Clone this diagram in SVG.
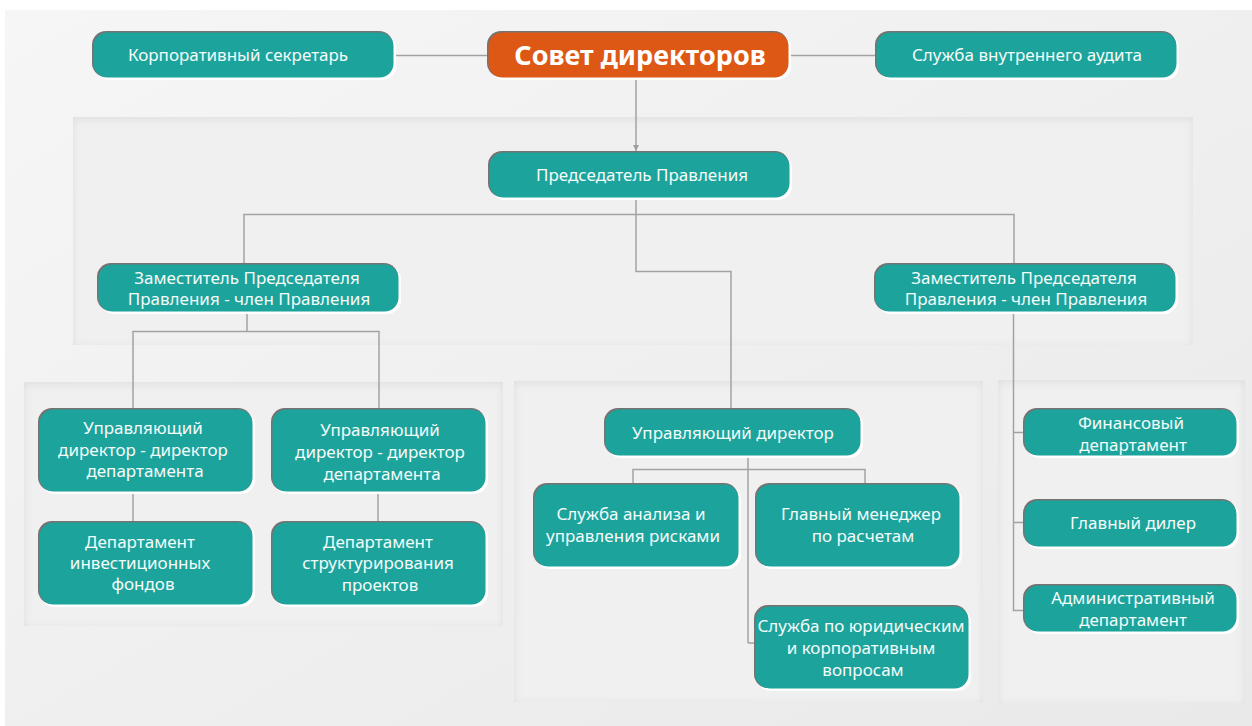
<svg xmlns="http://www.w3.org/2000/svg" width="1252" height="726" viewBox="0 0 1252 726">
<defs>
<linearGradient id="bg" x1="0" y1="0" x2="1" y2="1">
<stop offset="0" stop-color="#f6f6f6"/><stop offset="1" stop-color="#eae9ea"/>
</linearGradient>
<filter id="inset" x="-5%" y="-5%" width="110%" height="110%">
<feFlood flood-color="#000" flood-opacity="0.16" result="f"/>
<feComposite in="f" in2="SourceAlpha" operator="out" result="o"/>
<feOffset dx="0" dy="2" in="o" result="oo"/>
<feGaussianBlur in="oo" stdDeviation="4" result="b"/>
<feComposite in="b" in2="SourceAlpha" operator="in" result="s"/>
<feMerge><feMergeNode in="SourceGraphic"/><feMergeNode in="s"/></feMerge>
</filter>
<marker id="arr" viewBox="0 0 10 10" refX="10" refY="5" markerWidth="8" markerHeight="6" markerUnits="userSpaceOnUse" orient="auto">
<path d="M0,0 L10,5 L0,10 z" fill="#9e9e9e"/>
</marker>
</defs>
<style>
.panel{fill:#f1f0f0;filter:url(#inset)}
.hl{fill:#ffffff}
.sh{fill:#767272}
.box{fill:#1ca49c}
.orange{fill:#dd5815}
.t{font-family:"Noto Sans","Open Sans",sans-serif;font-size:17px;fill:#f4fbfa;text-anchor:middle}
.title{font-family:"Noto Sans","Open Sans",sans-serif;font-size:27px;font-weight:bold;fill:#ffffff;text-anchor:middle}
.c{fill:none;stroke:#a3a2a2;stroke-width:1.5}
</style>
<rect x="5" y="10" width="1247" height="716" fill="url(#bg)"/>
<g id="panels">
<rect class="panel" x="73" y="117" width="1120" height="228"/>
<rect class="panel" x="24" y="382" width="479" height="244"/>
<rect class="panel" x="514" y="381" width="469" height="321"/>
<rect class="panel" x="998" y="380" width="247" height="323"/>
</g>
<g id="connectors">
<line class="c" x1="394" y1="55.5" x2="488" y2="55.5"/>
<line class="c" x1="789" y1="55.5" x2="876" y2="55.5"/>
<line class="c" x1="636" y1="78" x2="636" y2="151" marker-end="url(#arr)"/>
<polyline class="c" points="244,264 244,214.5 1014,214.5 1014,264"/>
<polyline class="c" points="636,198 636,271.5 731,271.5 731,409"/>
<polyline class="c" points="247,312 247,331.5"/>
<polyline class="c" points="133,409 133,331.5 379,331.5 379,409"/>
<line class="c" x1="133" y1="492" x2="133" y2="522"/>
<line class="c" x1="378" y1="492" x2="378" y2="522"/>
<polyline class="c" points="1013.5,312 1013.5,610.5 1024,610.5"/>
<line class="c" x1="1013.5" y1="432.5" x2="1024" y2="432.5"/>
<line class="c" x1="1013.5" y1="522.5" x2="1024" y2="522.5"/>
<line class="c" x1="748" y1="456" x2="748" y2="643"/>
<line class="c" x1="748" y1="643" x2="755" y2="643"/>
<polyline class="c" points="633,484 633,469.5 865,469.5 865,484"/>
</g>
<g id="n-secretary">
<rect class="hl" x="95" y="34" width="301" height="46" rx="14"/>
<rect class="sh" x="92" y="31" width="301" height="46" rx="14"/>
<rect class="box" x="93.5" y="32.5" width="300" height="45" rx="14"/>
<text class="t" x="238" y="61">Корпоративный секретарь</text>
</g>
<g id="n-board">
<rect class="hl" x="490" y="34" width="301" height="46" rx="14"/>
<rect class="sh" x="487" y="31" width="301" height="46" rx="14"/>
<rect class="orange" x="488.5" y="32.5" width="300" height="45" rx="14"/>
<text class="title" x="640" y="65">Совет директоров</text>
</g>
<g id="n-audit">
<rect class="hl" x="878" y="34" width="301" height="46" rx="14"/>
<rect class="sh" x="875" y="31" width="301" height="46" rx="14"/>
<rect class="box" x="876.5" y="32.5" width="300" height="45" rx="14"/>
<text class="t" x="1027" y="61">Служба внутреннего аудита</text>
</g>
<g id="n-chair">
<rect class="hl" x="491" y="154" width="301" height="46" rx="14"/>
<rect class="sh" x="488" y="151" width="301" height="46" rx="14"/>
<rect class="box" x="489.5" y="152.5" width="300" height="45" rx="14"/>
<text class="t" x="642" y="181">Председатель Правления</text>
</g>
<g id="n-deputy-left">
<rect class="hl" x="100" y="266" width="301" height="48" rx="14"/>
<rect class="sh" x="97" y="263" width="301" height="48" rx="14"/>
<rect class="box" x="98.5" y="264.5" width="300" height="47" rx="14"/>
<text class="t" x="247" y="284">Заместитель Председателя</text>
<text class="t" x="249" y="305">Правления - член Правления</text>
</g>
<g id="n-deputy-right">
<rect class="hl" x="877" y="266" width="301" height="48" rx="14"/>
<rect class="sh" x="874" y="263" width="301" height="48" rx="14"/>
<rect class="box" x="875.5" y="264.5" width="300" height="47" rx="14"/>
<text class="t" x="1024" y="284">Заместитель Председателя</text>
<text class="t" x="1026" y="305">Правления - член Правления</text>
</g>
<g id="n-md1">
<rect class="hl" x="41" y="411" width="214" height="83" rx="14"/>
<rect class="sh" x="38" y="408" width="214" height="83" rx="14"/>
<rect class="box" x="39.5" y="409.5" width="213" height="82" rx="14"/>
<text class="t" x="143" y="434">Управляющий</text>
<text class="t" x="143" y="456">директор - директор</text>
<text class="t" x="145" y="477">департамента</text>
</g>
<g id="n-md2">
<rect class="hl" x="274" y="411" width="214" height="83" rx="14"/>
<rect class="sh" x="271" y="408" width="214" height="83" rx="14"/>
<rect class="box" x="272.5" y="409.5" width="213" height="82" rx="14"/>
<text class="t" x="380" y="436">Управляющий</text>
<text class="t" x="380" y="458">директор - директор</text>
<text class="t" x="382" y="480">департамента</text>
</g>
<g id="n-invest">
<rect class="hl" x="41" y="524" width="214" height="83" rx="14"/>
<rect class="sh" x="38" y="521" width="214" height="83" rx="14"/>
<rect class="box" x="39.5" y="522.5" width="213" height="82" rx="14"/>
<text class="t" x="140" y="548">Департамент</text>
<text class="t" x="140" y="569">инвестиционных</text>
<text class="t" x="143" y="590">фондов</text>
</g>
<g id="n-struct">
<rect class="hl" x="274" y="524" width="214" height="83" rx="14"/>
<rect class="sh" x="271" y="521" width="214" height="83" rx="14"/>
<rect class="box" x="272.5" y="522.5" width="213" height="82" rx="14"/>
<text class="t" x="378" y="548">Департамент</text>
<text class="t" x="378" y="569">структурирования</text>
<text class="t" x="380" y="591">проектов</text>
</g>
<g id="n-md">
<rect class="hl" x="607" y="411" width="256" height="47" rx="14"/>
<rect class="sh" x="604" y="408" width="256" height="47" rx="14"/>
<rect class="box" x="605.5" y="409.5" width="255" height="46" rx="14"/>
<text class="t" x="733" y="439">Управляющий директор</text>
</g>
<g id="n-risk">
<rect class="hl" x="536" y="486" width="205" height="83" rx="14"/>
<rect class="sh" x="533" y="483" width="205" height="83" rx="14"/>
<rect class="box" x="534.5" y="484.5" width="204" height="82" rx="14"/>
<text class="t" x="631" y="520">Служба анализа и</text>
<text class="t" x="633" y="542">управления рисками</text>
</g>
<g id="n-settle">
<rect class="hl" x="758" y="486" width="204" height="83" rx="14"/>
<rect class="sh" x="755" y="483" width="204" height="83" rx="14"/>
<rect class="box" x="756.5" y="484.5" width="203" height="82" rx="14"/>
<text class="t" x="861" y="520">Главный менеджер</text>
<text class="t" x="863" y="542">по расчетам</text>
</g>
<g id="n-legal">
<rect class="hl" x="757" y="608" width="214" height="83" rx="14"/>
<rect class="sh" x="754" y="605" width="214" height="83" rx="14"/>
<rect class="box" x="755.5" y="606.5" width="213" height="82" rx="14"/>
<text class="t" x="861" y="632">Служба по юридическим</text>
<text class="t" x="861" y="654">и корпоративным</text>
<text class="t" x="863" y="676">вопросам</text>
</g>
<g id="n-finance">
<rect class="hl" x="1026" y="411" width="213" height="47" rx="14"/>
<rect class="sh" x="1023" y="408" width="213" height="47" rx="14"/>
<rect class="box" x="1024.5" y="409.5" width="212" height="46" rx="14"/>
<text class="t" x="1131" y="429">Финансовый</text>
<text class="t" x="1133" y="451">департамент</text>
</g>
<g id="n-dealer">
<rect class="hl" x="1026" y="502" width="213" height="47" rx="14"/>
<rect class="sh" x="1023" y="499" width="213" height="47" rx="14"/>
<rect class="box" x="1024.5" y="500.5" width="212" height="46" rx="14"/>
<text class="t" x="1133" y="529">Главный дилер</text>
</g>
<g id="n-admin">
<rect class="hl" x="1026" y="587" width="213" height="47" rx="14"/>
<rect class="sh" x="1023" y="584" width="213" height="47" rx="14"/>
<rect class="box" x="1024.5" y="585.5" width="212" height="46" rx="14"/>
<text class="t" x="1133" y="604">Административный</text>
<text class="t" x="1133" y="626">департамент</text>
</g>
</svg>
